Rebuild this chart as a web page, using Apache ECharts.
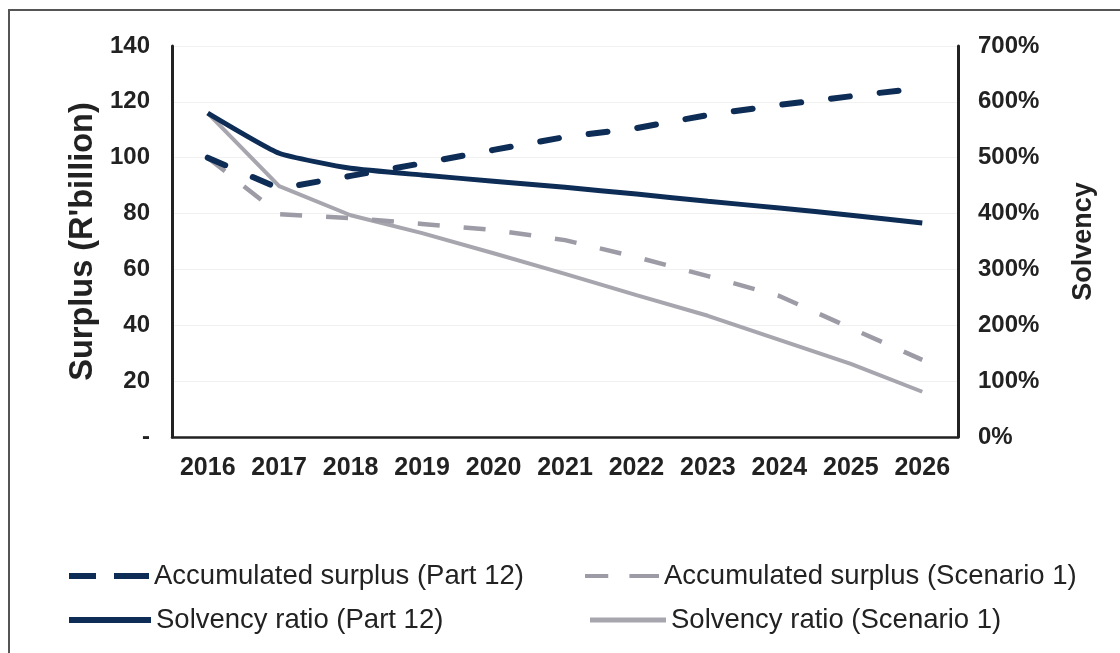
<!DOCTYPE html>
<html>
<head>
<meta charset="utf-8">
<script src="https://cdn.jsdelivr.net/npm/echarts@6/dist/echarts.min.js"></script>
<style>
html,body{margin:0;padding:0;background:#fff;}
#chart{width:1120px;height:653px;}
</style>
</head>
<body>
<div id="chart"></div>
<script>
const years = ['2016','2017','2018','2019','2020','2021','2022','2023','2024','2025','2026'];
const surplusPart12 = [100, 89, 93.5, 98, 102.8, 107.4, 110.6, 115.3, 118.9, 122, 125];
const surplusScenario1 = [100, 79.8, 78.4, 76.3, 74.1, 70.5, 64.4, 57.6, 50.5, 39, 27.6];
const solvencyPart12 = [580, 508, 481, 469, 458, 447, 435, 422, 410, 397, 383];
const solvencyScenario1 = [580, 449, 397, 365, 329, 292, 254, 217, 174, 131, 81];
const seriesNames = ['Accumulated surplus (Part 12)','Accumulated surplus (Scenario 1)','Solvency ratio (Part 12)','Solvency ratio (Scenario 1)'];

const FONT = "'Liberation Sans', Arial, sans-serif";
const NAVY = '#0e2d56';
const GREY_D = '#9d9ca6';
const GREY_S = '#a7a6ae';
const TXT = '#222222';

const chart = echarts.init(document.getElementById('chart'), null, {renderer:'canvas'});

function legendAt(name, left, top, icon, w, h, color){
  return {
    data:[{name:name, icon:icon, itemStyle:{color:color, borderWidth:0}}],
    left:left, top:top, orient:'horizontal',
    itemWidth:w, itemHeight:h, itemGap:0,
    textStyle:{fontFamily:FONT, fontSize:27.5, color:TXT, padding:[0,0,0,0]},
    selectedMode:false
  };
}

const option = {
  backgroundColor:'#ffffff',
  animation:false,
  grid:{left:172, right:162, top:46, bottom:216, containLabel:false},
  legend:[
    legendAt(seriesNames[0], 64, 557, 'path://M0,0h27v6h-27z M45,0h35v6h-35z', 80, 6, NAVY),
    legendAt(seriesNames[1], 580, 557, 'path://M0,0h22v4h-22z M42,0h28v4h-28z', 74, 4.5, GREY_D),
    legendAt(seriesNames[2], 64, 601, 'rect', 82, 6, NAVY),
    legendAt(seriesNames[3], 585, 601, 'rect', 76, 5, GREY_S)
  ],
  xAxis:[{
    type:'category', data:years, boundaryGap:true, position:'bottom',
    axisLine:{show:true, lineStyle:{color:'#e4e4e4', width:1}},
    axisTick:{show:false},
    axisLabel:{interval:0, margin:19, fontFamily:FONT, fontWeight:'bold', fontSize:25, color:TXT},
    splitLine:{show:false}
  },{
    type:'category', data:years, position:'top',
    axisLine:{show:true, lineStyle:{color:'#222', width:2.5}},
    axisTick:{show:false}, axisLabel:{show:false}, splitLine:{show:false}
  }],
  yAxis:[{
    type:'value', min:0, max:140, interval:20, position:'left',
    name:"Surplus (R'billion)", nameLocation:'middle', nameGap:68, nameRotate:90,
    nameTextStyle:{fontFamily:FONT, fontWeight:'bold', fontSize:32.5, color:TXT},
    axisLine:{show:true, lineStyle:{color:'#222', width:3}},
    axisTick:{show:false},
    axisLabel:{margin:22, fontFamily:FONT, fontWeight:'bold', fontSize:24, color:TXT,
      formatter:function(v){return v===0?'-':String(v);}},
    splitLine:{show:true, lineStyle:{color:'#f1f1f1', width:1}}
  },{
    type:'value', min:0, max:700, interval:100, position:'right',
    name:'Solvency', nameLocation:'middle', nameGap:112, nameRotate:90,
    nameTextStyle:{fontFamily:FONT, fontWeight:'bold', fontSize:27, color:TXT},
    axisLine:{show:true, lineStyle:{color:'#222', width:3}},
    axisTick:{show:false},
    axisLabel:{margin:20, fontFamily:FONT, fontWeight:'bold', fontSize:24, color:TXT,
      formatter:'{value}%'},
    splitLine:{show:false}
  }],
  graphic:[{
    type:'polyline', silent:true, z:-1,
    shape:{points:[[9,653],[9,10],[1120,10]]},
    style:{stroke:'#555', lineWidth:2, fill:null}
  }],
  series:[
    {name:seriesNames[0], type:'line', data:surplusPart12, yAxisIndex:0, symbol:'none', z:5,
      lineStyle:{color:NAVY, width:6, type:[19,30], cap:'round'}, itemStyle:{color:NAVY}},
    {name:seriesNames[1], type:'line', data:surplusScenario1, yAxisIndex:0, symbol:'none', z:3,
      lineStyle:{color:GREY_D, width:4.5, type:[22,24]}, itemStyle:{color:GREY_D}},
    {name:seriesNames[2], type:'line', data:solvencyPart12, yAxisIndex:1, symbol:'none', z:4, smooth:0.15,
      lineStyle:{color:NAVY, width:5}, itemStyle:{color:NAVY}},
    {name:seriesNames[3], type:'line', data:solvencyScenario1, yAxisIndex:1, symbol:'none', z:2,
      lineStyle:{color:GREY_S, width:4}, itemStyle:{color:GREY_S}}
  ]
};
chart.setOption(option);
</script>
</body>
</html>
